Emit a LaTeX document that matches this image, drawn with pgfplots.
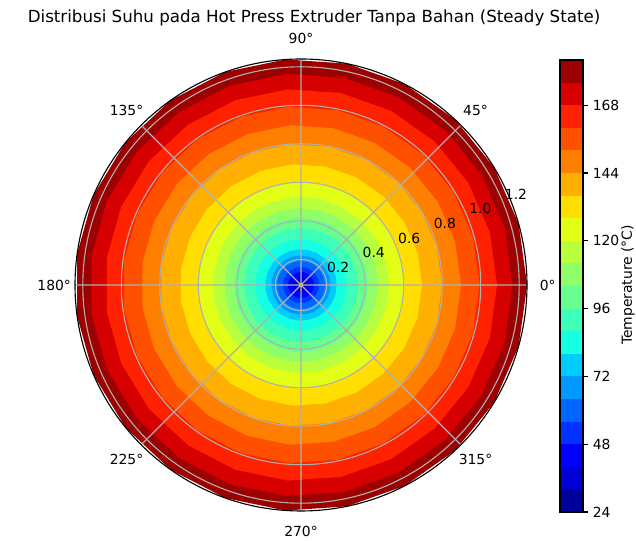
\documentclass[border=0pt]{standalone}
\usepackage{fontspec}
\setmainfont{DejaVu Sans}
\usepackage{pgfplots}
\pgfplotsset{compat=1.18}
\usepgfplotslibrary{polar}

% matplotlib "jet" sampled at the 20 band midpoints
\definecolor{c0}{rgb}{0,0,0.614}
\definecolor{c1}{rgb}{0,0,0.841}
\definecolor{c2}{rgb}{0,0,1}
\definecolor{c3}{rgb}{0,0.2,1}
\definecolor{c4}{rgb}{0,0.4,1}
\definecolor{c5}{rgb}{0,0.6,1}
\definecolor{c6}{rgb}{0,0.8,1}
\definecolor{c7}{rgb}{0.081,1,0.887}
\definecolor{c8}{rgb}{0.242,1,0.726}
\definecolor{c9}{rgb}{0.403,1,0.565}
\definecolor{c10}{rgb}{0.565,1,0.403}
\definecolor{c11}{rgb}{0.726,1,0.242}
\definecolor{c12}{rgb}{0.887,1,0.081}
\definecolor{c13}{rgb}{1,0.870,0}
\definecolor{c14}{rgb}{1,0.685,0}
\definecolor{c15}{rgb}{1,0.5,0}
\definecolor{c16}{rgb}{1,0.315,0}
\definecolor{c17}{rgb}{1,0.130,0}
\definecolor{c18}{rgb}{0.841,0,0}
\definecolor{c19}{rgb}{0.614,0,0}

% filled contour band: colour, outer radius r (angular grid of 23 steps)
\newcommand\ring[2]{\addplot[fill=#1,draw=none,forget plot,y filter/.expression={y-0.0665}] coordinates {(0,#2) (15.652,#2) (31.304,#2) (46.957,#2) (62.609,#2) (78.261,#2) (93.913,#2) (109.565,#2) (125.217,#2) (140.870,#2) (156.522,#2) (172.174,#2) (187.826,#2) (203.478,#2) (219.130,#2) (234.783,#2) (250.435,#2) (266.087,#2) (281.739,#2) (297.391,#2) (313.043,#2) (328.696,#2) (344.348,#2) (360,#2)};}
% colourbar band: colour, lower level, upper level
\newcommand\cbar[3]{\addplot[fill=#1,draw=none,forget plot] coordinates {(0,#2) (1,#2) (1,#3) (0,#3)};}

\begin{document}
\begin{tikzpicture}
\path[use as bounding box] (0pt,0pt) rectangle (457.92pt,389.52pt);

\begin{polaraxis}[
  at={(216.72pt,184.32pt)}, anchor=center,
  scale only axis, width=325.44pt, height=325.44pt,
  xmin=0, xmax=360, ymin=0, ymax=1.174,
  xtick={0,45,...,315},
  ytick={0.1335,0.3335,0.5335,0.7335,0.9335,1.1335},
  xticklabels=\empty, yticklabels=\empty,
  grid=major,
  major grid style={color=black!31, line width=0.8pt},
  major tick length=0pt,
  axis line style={black, line width=0.8pt},
  y axis line style={draw=none},
  axis on top, clip=false,
  font=\fontsize{10}{12}\selectfont,
]
\ring{c19}{1.241}
\ring{c18}{1.165}
\ring{c17}{1.085}
\ring{c16}{0.994}
\ring{c15}{0.898}
\ring{c14}{0.799}
\ring{c13}{0.695}
\ring{c12}{0.602}
\ring{c11}{0.524}
\ring{c10}{0.466}
\ring{c9}{0.415}
\ring{c8}{0.363}
\ring{c7}{0.305}
\ring{c6}{0.252}
\ring{c5}{0.220}
\ring{c4}{0.191}
\ring{c3}{0.160}
\ring{c2}{0.134}
\ring{c1}{0.108}
\ring{c0}{0.0873}
\pgfplotsinvokeforeach{0,45,...,315}{\node[font=\fontsize{10}{12}\selectfont] at (axis cs:#1,1.282) {#1°};}
\node[anchor=south west,inner sep=1.5pt,font=\fontsize{10}{12}\selectfont] at (axis cs:22.5,0.1335) {0.2};
\node[anchor=south west,inner sep=1.5pt,font=\fontsize{10}{12}\selectfont] at (axis cs:22.5,0.3335) {0.4};
\node[anchor=south west,inner sep=1.5pt,font=\fontsize{10}{12}\selectfont] at (axis cs:22.5,0.5335) {0.6};
\node[anchor=south west,inner sep=1.5pt,font=\fontsize{10}{12}\selectfont] at (axis cs:22.5,0.7335) {0.8};
\node[anchor=south west,inner sep=1.5pt,font=\fontsize{10}{12}\selectfont] at (axis cs:22.5,0.9335) {1.0};
\node[anchor=south west,inner sep=1.5pt,font=\fontsize{10}{12}\selectfont] at (axis cs:22.5,1.1335) {1.2};
\end{polaraxis}

\begin{axis}[
  at={(403.2pt,20.88pt)}, anchor=south west,
  scale only axis, width=16.56pt, height=325.44pt,
  xmin=0, xmax=1, ymin=24, ymax=184,
  xtick=\empty, ytick={24,48,...,168},
  ytick pos=right, yticklabel pos=right,
  tick align=outside, major tick length=3.5pt,
  tick style={black, line width=0.8pt},
  axis line style={black, line width=0.8pt},
  axis on top,
  /pgf/number format/assume math mode=true,
  ticklabel style={font=\fontsize{10}{12}\selectfont},
]
\cbar{c0}{24}{32}
\cbar{c1}{32}{40}
\cbar{c2}{40}{48}
\cbar{c3}{48}{56}
\cbar{c4}{56}{64}
\cbar{c5}{64}{72}
\cbar{c6}{72}{80}
\cbar{c7}{80}{88}
\cbar{c8}{88}{96}
\cbar{c9}{96}{104}
\cbar{c10}{104}{112}
\cbar{c11}{112}{120}
\cbar{c12}{120}{128}
\cbar{c13}{128}{136}
\cbar{c14}{136}{144}
\cbar{c15}{144}{152}
\cbar{c16}{152}{160}
\cbar{c17}{160}{168}
\cbar{c18}{168}{176}
\cbar{c19}{176}{184}
\end{axis}

\node[rotate=90,font=\fontsize{10}{12}\selectfont] at (452.2pt,184.32pt) {Temperature (°C)};
\node[font=\fontsize{12}{14.4}\selectfont] at (226.1pt,376.6pt) {Distribusi Suhu pada Hot Press Extruder Tanpa Bahan (Steady State)};
\end{tikzpicture}
\end{document}
